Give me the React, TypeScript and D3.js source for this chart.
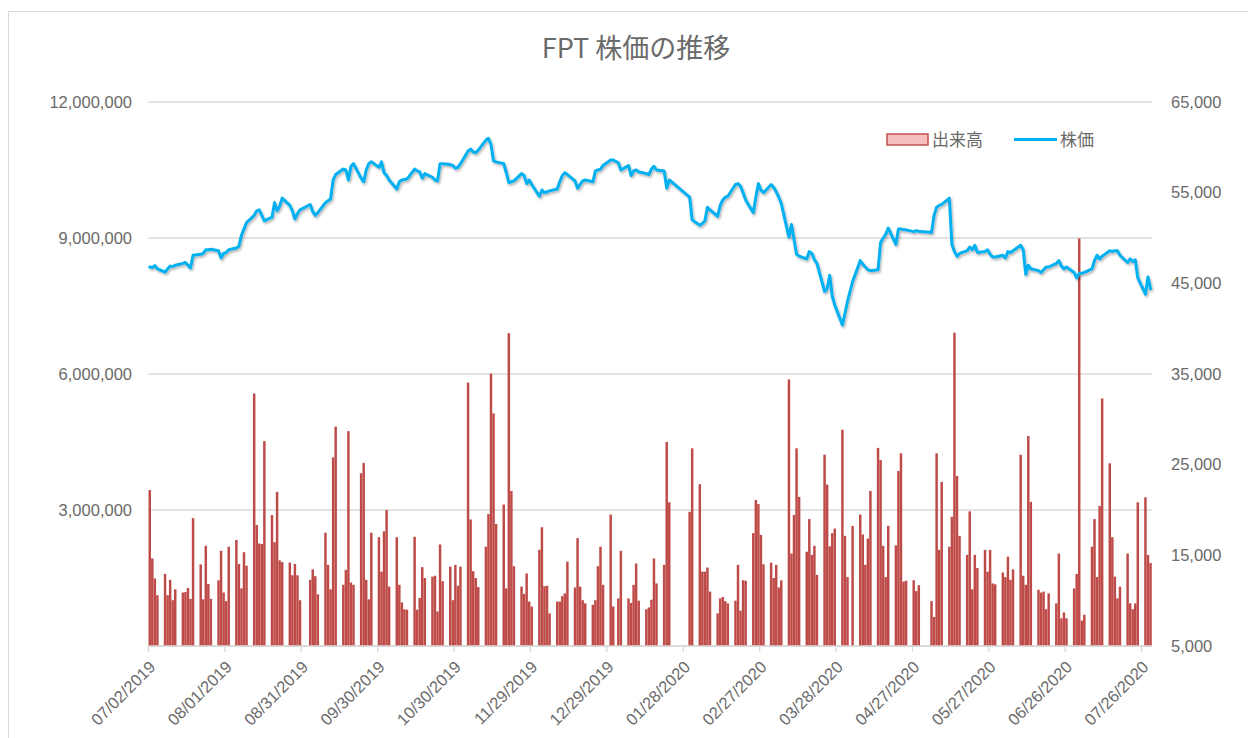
import * as d3 from "d3";

// ---- データ ----
const startDate = "2019-07-02";
const endDate = "2020-07-29";
// 休場日（平日）
const holidays = [
  "2019-09-02", "2020-01-01", "2020-01-23", "2020-01-24", "2020-01-27",
  "2020-01-28", "2020-01-29", "2020-04-02", "2020-04-30", "2020-05-01",
];
const tickLabels = [
  "07/02/2019", "08/01/2019", "08/31/2019", "09/30/2019", "10/30/2019",
  "11/29/2019", "12/29/2019", "01/28/2020", "02/27/2020", "03/28/2020",
  "04/27/2020", "05/27/2020", "06/26/2020", "07/26/2020",
];
// 出来高（百万株）
const volumeM = [
  3.44, 1.93, 1.49, 1.12,
  1.59, 1.12, 1.46, 1.01, 1.25,
  1.18, 1.19, 1.28, 1.04, 2.82,
  1.80, 1.03, 2.21, 1.37, 1.04,
  1.45, 2.10, 1.18, 0.99, 2.19,
  2.34, 1.81, 1.27, 2.07, 1.77,
  5.57, 2.67, 2.26, 2.25, 4.52,
  2.89, 2.29, 3.40, 1.89, 1.85,
  1.84, 1.56, 1.81, 1.56, 1.01,
  1.46, 1.69, 1.54, 1.14,
  2.50, 1.79, 1.25, 4.16, 4.84,
  1.35, 1.68, 4.74, 1.40, 1.35,
  3.81, 4.04, 1.46, 1.03, 2.50,
  2.40, 1.64, 2.53, 3.00, 1.31,
  2.40, 1.35, 0.96, 0.81, 0.80,
  2.41, 0.80, 1.06, 1.74, 1.50,
  1.53, 1.55, 0.76, 2.24, 1.43,
  1.75, 1.01, 1.79, 1.33, 1.75,
  5.81, 2.79, 1.65, 1.50, 1.30,
  2.19, 2.91, 6.01, 5.13, 2.69,
  3.12, 1.27, 6.90, 3.42, 1.76,
  1.31, 1.15, 1.60, 0.98, 0.87,
  2.12, 2.62, 1.32, 1.33, 0.72,
  0.98, 0.98, 1.10, 1.16, 1.86,
  1.29, 2.38, 1.31, 1.01, 0.94,
  0.91, 1.01, 1.76, 2.19, 1.35,
  2.90, 0.87, 1.05, 2.10,
  1.05, 0.95, 1.35, 1.82, 1.00,
  0.81, 0.85, 1.02, 1.93, 1.38,
  1.79, 4.50, 3.17,
  2.96, 4.36,
  3.57, 1.64, 1.64, 1.73, 1.20,
  0.72, 1.05, 1.08, 0.99, 0.94,
  1.00, 1.79, 0.78, 1.45, 1.44,
  2.49, 3.22, 3.13, 2.45, 1.80,
  1.84, 1.50, 1.79, 1.29, 1.45,
  5.88, 2.04, 2.89, 4.36, 3.29,
  2.08, 2.80, 2.01, 2.21, 1.57,
  4.22, 3.56, 2.20, 2.49, 2.59,
  4.77, 2.43, 1.52, 2.65,
  2.90, 2.46, 1.79, 2.37, 3.42,
  4.37, 4.10, 2.21, 1.52, 2.65,
  2.22, 3.86, 4.25, 1.42, 1.44,
  1.45, 1.21, 1.34,
  0.99, 0.64, 4.25, 2.12, 3.62,
  2.19, 2.85, 6.91, 3.75, 2.43,
  2.01, 2.97, 1.25, 2.01, 1.72,
  2.12, 1.64, 2.12, 1.38, 1.36,
  1.62, 1.52, 1.97, 1.46, 1.69,
  4.22, 1.55, 1.35, 4.63, 3.18,
  1.24, 1.18, 1.20, 0.81, 1.16,
  0.94, 2.04, 0.61, 0.74, 0.61,
  1.27, 1.59, 8.99, 0.56, 0.69,
  2.19, 2.80, 1.52, 3.09, 5.46,
  4.03, 2.40, 1.53, 1.05, 1.31,
  2.04, 0.94, 0.81, 0.94, 3.17,
  3.28, 2.01, 1.83,
];
// 株価（千ドン）
const priceK = [
  46.8, 46.75, 46.95, 46.6,
  46.25, 46.6, 46.9, 46.85, 47.0,
  47.2, 47.3, 47.0, 46.7, 48.1,
  48.2, 48.3, 48.7, 48.7, 48.75,
  48.6, 47.8, 48.3, 48.4, 48.7,
  48.9, 49.1, 50.3, 51.0, 51.7,
  52.5, 53.0, 53.1, 52.5, 51.9,
  52.3, 53.9, 53.0, 53.5, 54.4,
  53.6, 53.0, 52.1, 52.7, 53.1,
  53.7, 52.9, 52.5, 52.8,
  53.9, 54.1, 54.3, 56.4, 57.0,
  57.6, 57.5, 56.4, 57.9, 58.2,
  56.6, 56.2, 57.5, 58.2, 58.4,
  57.8, 58.4, 57.2, 56.9, 56.4,
  55.4, 56.2, 56.4, 56.45, 56.5,
  57.6, 57.4, 57.3, 56.6, 57.1,
  56.7, 56.4, 56.3, 58.2, 58.2,
  58.1, 58.0, 57.7, 57.8, 58.2,
  59.6, 59.8, 59.5, 59.4, 59.7,
  60.8, 61.0, 60.3, 58.5, 58.4,
  58.2, 57.2, 56.1, 56.2, 56.3,
  57.1, 56.9, 56.0, 56.4, 55.9,
  54.6, 55.3, 55.0, 55.1, 55.2,
  55.4, 56.2, 56.9, 57.2, 57.0,
  56.3, 55.5, 55.9, 56.3, 56.4,
  56.2, 57.4, 57.5, 57.6, 58.0,
  58.6, 58.6, 58.3, 57.5,
  58.0, 56.9, 57.4, 57.5, 57.3,
  57.1, 57.0, 57.6, 57.9, 57.5,
  57.4, 55.5, 56.4,
  54.5, 52.0,
  51.4, 51.6, 51.9, 53.4, 53.1,
  52.4, 53.6, 54.2, 54.5, 54.6,
  55.9, 56.0, 55.7, 55.0, 54.2,
  52.8, 54.5, 56.0, 55.3, 55.0,
  55.9, 55.6, 55.1, 54.5, 53.8,
  50.1, 51.5, 49.8, 48.2, 48.0,
  47.7, 48.5, 48.3, 47.6, 47.2,
  44.1, 44.4, 45.9, 43.6, 42.6,
  40.4, 41.7, 43.0, 45.2,
  47.5, 47.1, 46.8, 46.5, 46.4,
  46.5, 49.5, 50.0, 50.4, 51.1,
  49.3, 51.0, 51.0, 50.9, 50.9,
  50.7, 50.8, 50.75,
  50.6, 52.5, 53.4, 53.6, 53.7,
  54.4, 49.3, 48.5, 48.0, 48.3,
  48.6, 49.0, 48.7, 49.2, 48.4,
  48.5, 48.7, 48.2, 47.9, 47.9,
  48.1, 47.8, 48.5, 48.4, 48.6,
  49.2, 48.7, 46.0, 47.0, 46.6,
  46.4, 46.2, 46.5, 46.8, 46.8,
  47.2, 47.5, 46.9, 46.6, 46.8,
  46.2, 45.6, 46.1, 46.1, 46.2,
  46.6, 47.5, 48.1, 47.7, 48.0,
  48.6, 48.5, 48.6, 48.6, 48.1,
  47.3, 47.7, 47.4, 47.6, 45.6,
  43.8, 45.7, 44.4,
];
const volTicks = [3, 6, 9, 12];
const priceTicks = [5, 15, 25, 35, 45, 55, 65];

const parseDay = d3.timeParse("%Y-%m-%d");
const fmtDay = d3.timeFormat("%Y-%m-%d");
const parseTick = d3.timeParse("%m/%d/%Y");

// 営業日
const tradingDays = d3.timeDay
  .range(parseDay(startDate)!, d3.timeDay.offset(parseDay(endDate)!, 1))
  .filter((d) => d.getDay() !== 0 && d.getDay() !== 6 && !holidays.includes(fmtDay(d)));

export default function App() {
  const W = 1248;
  const H = 738;
  const plot = { left: 148.5, right: 1151.8, top: 102, bottom: 646 };

  const x = d3
    .scaleTime()
    .domain([parseDay(startDate)!, d3.timeDay.offset(parseDay(endDate)!, 1)])
    .range([plot.left, plot.right]);
  const slot = x(d3.timeDay.offset(parseDay(startDate)!, 1)) - x(parseDay(startDate)!);

  const yVol = d3.scaleLinear().domain([0, 12]).range([plot.bottom, plot.top]);
  const yPrice = d3.scaleLinear().domain([5, 65]).range([plot.bottom, plot.top]);

  const line = d3
    .line<number>()
    .x((_, i) => x(tradingDays[i]) + slot / 2)
    .y((d) => yPrice(d))
    .curve(d3.curveLinear);

  const numFmt = d3.format(",");
  const textColor = "#6A6A6A";
  const gridColor = "#D9D9D9";
  const numFont = "'Liberation Sans', Arial, sans-serif";
  const jpFont = "'Noto Sans CJK JP', sans-serif";

  return (
    <svg
      width={W}
      height={H}
      viewBox={`0 0 ${W} ${H}`}
      style={{ position: "absolute", left: 0, top: 0, background: "#fff" }}
    >
      <defs>
        <filter id="lineShadow" x="-5%" y="-10%" width="110%" height="130%">
          <feDropShadow dx="1.2" dy="1.8" stdDeviation="1.1" floodColor="#000" floodOpacity="0.3" />
        </filter>
      </defs>
      <rect x={8.5} y={11.5} width={1300} height={800} fill="#fff" stroke={gridColor} />

      {/* タイトル */}
      <text x={636} y={58} textAnchor="middle" fontFamily={jpFont} fontSize={27} fill={textColor}>
        FPT 株価の推移
      </text>

      {/* 横グリッド */}
      {volTicks.concat([0]).map((t) => (
        <line key={t} x1={plot.left} x2={plot.right} y1={yVol(t)} y2={yVol(t)} stroke={gridColor} strokeWidth={1.3} />
      ))}

      {/* 左軸 */}
      {volTicks.map((t) => (
        <text key={t} x={132} y={yVol(t) + 5.5} textAnchor="end" fontFamily={numFont} fontSize={16.5} fill={textColor}>
          {numFmt(t * 1e6)}
        </text>
      ))}

      {/* 右軸 */}
      {priceTicks.map((t) => (
        <text key={t} x={1171} y={yPrice(t) + 5.5} textAnchor="start" fontFamily={numFont} fontSize={16.5} fill={textColor}>
          {numFmt(t * 1e3)}
        </text>
      ))}

      {/* 出来高 */}
      <g fill="#BE4B48">
        {volumeM.map((v, i) => (
          <rect
            key={i}
            x={x(tradingDays[i]) + slot * 0.015}
            y={yVol(v)}
            width={slot * 0.97}
            height={yVol(0) - yVol(v)}
          />
        ))}
      </g>

      {/* 株価 */}
      <path
        d={line(priceK) ?? ""}
        fill="none"
        stroke="#00B0F0"
        strokeWidth={3}
        strokeLinejoin="round"
        strokeLinecap="round"
        filter="url(#lineShadow)"
      />

      {/* x 軸 */}
      <line x1={plot.left} x2={plot.right} y1={plot.bottom} y2={plot.bottom} stroke={gridColor} strokeWidth={1.3} />
      {tickLabels.map((t) => {
        const tx = x(parseTick(t)!);
        return (
          <g key={t}>
            <line x1={tx} x2={tx} y1={plot.bottom} y2={plot.bottom + 6} stroke={gridColor} strokeWidth={1.3} />
            <text
              transform={`translate(${tx + 8},${plot.bottom + 22}) rotate(-45)`}
              textAnchor="end"
              fontFamily={numFont}
              fontSize={16.5}
              fill={textColor}
            >
              {t}
            </text>
          </g>
        );
      })}

      {/* 凡例 */}
      <rect x={887} y={134} width={41} height={11} fill="#F6BEBC" stroke="#C0504D" strokeWidth={1.5} />
      <text x={932} y={146} fontFamily={jpFont} fontSize={17} fill={textColor}>
        出来高
      </text>
      <line x1={1014} x2={1057} y1={139.5} y2={139.5} stroke="#00B0F0" strokeWidth={3} />
      <text x={1060} y={146} fontFamily={jpFont} fontSize={17} fill={textColor}>
        株価
      </text>
    </svg>
  );
}
